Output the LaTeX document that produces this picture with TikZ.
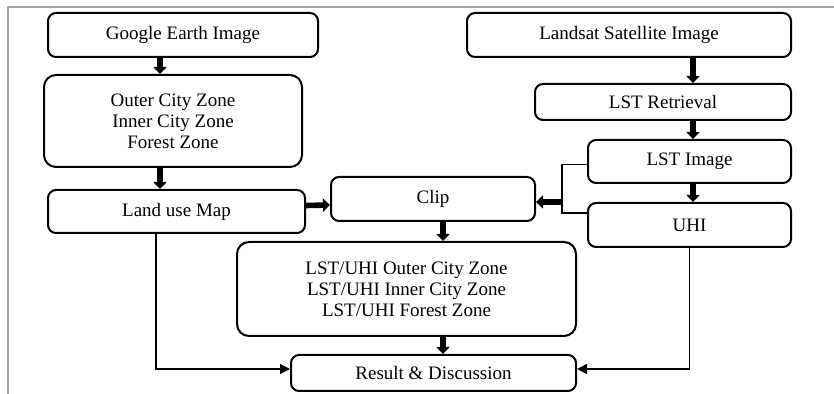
\documentclass[tikz,border=0pt]{standalone}
\usepackage{fontspec}
\setmainfont{Liberation Serif}
\usepackage{tikz}
\usetikzlibrary{arrows.meta,calc}

\begin{document}
\begin{tikzpicture}[x=0.5pt,y=-0.5pt,
    font=\fontsize{9.5}{10.5}\selectfont,
    box/.style={draw, line width=1pt, rounded corners=4pt, align=center, inner sep=0pt},
    fat/.style={line width=2.8pt, -{Triangle[width=6.5pt,length=3.5pt]}},
    link/.style={line width=0.8pt, -{Triangle[width=5pt,length=5pt]}}]
    \useasboundingbox (0,0) rectangle (834,394);

    % Frame
    \draw[gray!70, line width=0.8pt] (8,394) -- (8,7) -- (834,7);

    % Left column
    \node[box, minimum width=135pt, minimum height=22pt] (ge) at (183,35) {Google Earth Image};
    \node[box, rounded corners=6pt, minimum width=129pt, minimum height=46pt] (zones) at (173,121)
        {Outer City Zone\\Inner City Zone\\Forest Zone};
    \node[box, minimum width=128.5pt, minimum height=21.5pt] (lum) at (176.5,211.5) {Land use Map};

    % Right column
    \node[box, minimum width=162pt, minimum height=22pt] (ls) at (629,35) {Landsat Satellite Image};
    \node[box, minimum width=128pt, minimum height=18pt] (ret) at (663,102) {LST Retrieval};
    \node[box, minimum width=101.5pt, minimum height=21.5pt] (lsti) at (689.5,161.5) {LST Image};
    \node[box, minimum width=101.5pt, minimum height=22pt] (uhi) at (689.5,225) {UHI};

    % Middle
    \node[box, minimum width=102pt, minimum height=22pt] (clip) at (433,199) {Clip};
    \node[box, rounded corners=6pt, minimum width=169.5pt, minimum height=47pt] (zlst) at (406.5,289)
        {LST/UHI Outer City Zone\\LST/UHI Inner City Zone\\LST/UHI Forest Zone};
    \node[box, minimum width=142.5pt, minimum height=18pt] (res) at (433.5,373) {Result \& Discussion};

    % Columns of the arrows
    \coordinate (lx) at (160,0);
    \coordinate (rx) at (693,0);
    \coordinate (mx) at (443,0);
    \coordinate (bx) at (562,0);
    \coordinate (dx) at (156,0);

    % Thick arrows
    \draw[fat] (lx |- ge.south) -- (lx |- zones.north);
    \draw[fat] (lx |- zones.south) -- (lx |- lum.north);
    \draw[fat] (rx |- ls.south) -- (rx |- ret.north);
    \draw[fat] (rx |- ret.south) -- (rx |- lsti.north);
    \draw[fat] (rx |- lsti.south) -- (rx |- uhi.north);
    \draw[fat] ($(lum.east)+(0,-6)$) -- ($(clip.west)+(0,6)$);
    \draw[fat] ($(bx |- clip.east)+(0,3)$) -- ($(clip.east)+(0,3)$);
    \draw[fat] (mx |- clip.south) -- (mx |- zlst.north);
    \draw[fat] (mx |- zlst.south) -- (mx |- res.north);

    % Thin lines
    \draw[line width=0.8pt] ($(lsti.west)+(0,3)$) -| ($(bx |- uhi.west)+(0,-12)$) -- ($(uhi.west)+(0,-12)$);
    \draw[link] (dx |- lum.south) |- ($(res.west)+(0,-4)$);
    \draw[link] (uhi.south) |- ($(res.east)+(0,-4)$);
\end{tikzpicture}
\end{document}
